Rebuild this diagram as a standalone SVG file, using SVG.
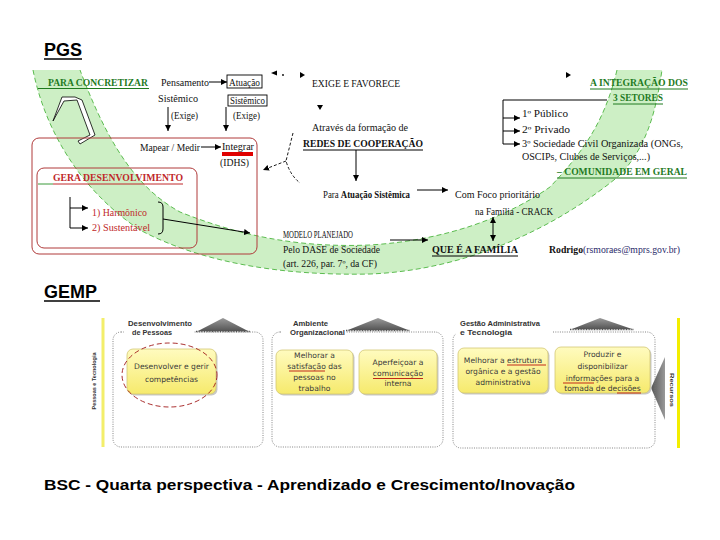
<svg xmlns="http://www.w3.org/2000/svg" width="720" height="540" viewBox="0 0 720 540">
<style>
.t{font-family:"Liberation Serif","DejaVu Serif",serif;font-size:9.5px;fill:#111}
.g{font-family:"Liberation Serif",serif;font-size:9.5px;font-weight:bold;fill:#1f7a1f}
.r{font-family:"Liberation Serif",serif;font-size:9.5px;fill:#c0282a}
.b{font-weight:bold}
.ttl{font-family:"Liberation Sans",Arial,sans-serif;font-weight:bold;font-size:18px;fill:#000}
.ln{stroke:#000;stroke-width:1;fill:none}
.lnd{stroke:#000;stroke-width:0.9;fill:none;stroke-dasharray:3 2}
.bx{font-family:"DejaVu Sans",Verdana,sans-serif;font-size:7.6px;fill:#3a3a3a;text-anchor:middle}
.gl{font-family:"Liberation Sans",Arial,sans-serif;font-size:7px;font-weight:bold;fill:#333}
.grp{fill:none;stroke:#777;stroke-width:0.9;stroke-dasharray:1 1.3}
.yb{fill:url(#yg);stroke:#d3c874;stroke-width:0.8}
.sh{fill:#c8c8c8}
.ul{stroke:#c02818;stroke-width:1}
</style>
<defs>
<marker id="ah" viewBox="0 0 6 6" refX="6" refY="3" markerWidth="6" markerHeight="6" markerUnits="userSpaceOnUse" orient="auto-start-reverse"><path d="M0,0 L6,3 L0,6 z" fill="#000"/></marker>
<linearGradient id="yg" x1="0" y1="0" x2="0" y2="1"><stop offset="0" stop-color="#fffbbf"/><stop offset="1" stop-color="#f6ea6c"/></linearGradient>
<linearGradient id="gr" x1="0" y1="0" x2="0" y2="1"><stop offset="0" stop-color="#9a9a9a"/><stop offset="1" stop-color="#555"/></linearGradient>
<linearGradient id="gr2" x1="0" y1="0" x2="1" y2="0"><stop offset="0" stop-color="#555"/><stop offset="1" stop-color="#999"/></linearGradient>
</defs>
<rect width="720" height="540" fill="#fff"/>

<!-- titles -->
<g id="title-pgs"><text class="ttl" x="44" y="56">PGS</text><line x1="44" y1="59" x2="82" y2="59" stroke="#000" stroke-width="1.5"/></g>
<g id="title-gemp"><text class="ttl" x="44" y="298">GEMP</text><line x1="44" y1="301" x2="100" y2="301" stroke="#000" stroke-width="1.5"/></g>
<g id="title-bsc"><text x="44" y="490" textLength="531" lengthAdjust="spacingAndGlyphs" style="font-family:'Liberation Sans',Arial,sans-serif;font-weight:bold;font-size:15.5px">BSC - Quarta perspectiva - Aprendizado e Crescimento/Inovação</text></g>

<!-- green band -->
<g id="band">
<path d="M33,70 C45,130 80,190 140,230 C200,262 280,276 370,274 C470,270 560,225 620,175 C648,145 656,110 662,70 L617,70 C605,120 585,150 550,187 C510,215 450,240 370,245 C300,248 240,236 180,212 C140,190 110,150 80,70 Z" fill="#cdefc5"/>
<path d="M33,70 C45,130 80,190 140,230 C200,262 280,276 370,274 C470,270 560,225 620,175 C648,145 656,110 662,70" fill="none" stroke="#5cbc50" stroke-width="1" stroke-dasharray="5 3"/>
<path d="M617,70 C605,120 585,150 550,187 C510,215 450,240 370,245 C300,248 240,236 180,212 C140,190 110,150 80,70" fill="none" stroke="#5cbc50" stroke-width="1" stroke-dasharray="5 3"/>
<path d="M53,121 L62,97 L75,97 L82,100 L95,135 L80,144 L78,141 L90,135 L77,100 L64,101 Z" fill="#fff" stroke="#000" stroke-width="0.8"/>
</g>

<!-- red boxes -->
<g id="box-outer"><rect x="32" y="138" width="225" height="116" rx="7" fill="none" stroke="#b03a3a" stroke-width="1"/></g>
<g id="box-inner"><rect x="37" y="168" width="160" height="80" rx="7" fill="none" stroke="#b03a3a" stroke-width="1"/></g>

<!-- PGS texts -->
<g id="para-concretizar"><text class="g" x="48" y="86" textLength="100" lengthAdjust="spacingAndGlyphs">PARA CONCRETIZAR</text><line x1="38" y1="88.5" x2="149" y2="88.5" stroke="#1f7a1f" stroke-width="1"/></g>
<g id="pensamento"><text class="t" x="161" y="86" textLength="48" lengthAdjust="spacingAndGlyphs">Pensamento</text></g>
<g id="atuacao"><rect x="227" y="75" width="35" height="13" fill="#fff" stroke="#000" stroke-width="0.9"/><text class="t" x="229" y="86" textLength="31" lengthAdjust="spacingAndGlyphs">Atuação</text></g>
<g id="sistemico1"><text class="t" x="158" y="102" textLength="40" lengthAdjust="spacingAndGlyphs">Sistêmico</text></g>
<g id="sistemico2"><rect x="228" y="95" width="39" height="11" fill="#fff" stroke="#000" stroke-width="0.9"/><text class="t" x="230" y="104" textLength="35" lengthAdjust="spacingAndGlyphs">Sistêmico</text></g>
<g id="exige1"><text class="t" x="171" y="119" textLength="27" lengthAdjust="spacingAndGlyphs">(Exige)</text></g>
<g id="exige2"><text class="t" x="233" y="119" textLength="27" lengthAdjust="spacingAndGlyphs">(Exige)</text></g>
<g id="mapear"><text class="t" x="140" y="151" textLength="60" lengthAdjust="spacingAndGlyphs">Mapear / Medir</text></g>
<g id="integrar"><text class="t" x="222" y="150" textLength="32" lengthAdjust="spacingAndGlyphs">Integrar</text><rect x="222" y="152" width="31" height="4" fill="#e00000"/></g>
<g id="idhs"><text class="t" x="220" y="166" textLength="29" lengthAdjust="spacingAndGlyphs">(IDHS)</text></g>
<g id="gera"><text class="r b" x="53" y="181" textLength="130" lengthAdjust="spacingAndGlyphs">GERA DESENVOLVIMENTO</text><line x1="53" y1="184" x2="183" y2="184" stroke="#c0282a"/><line x1="38" y1="184" x2="53" y2="184" stroke="#3a9a3a"/></g>
<g id="harmonico"><text class="r" x="92" y="216" textLength="55" lengthAdjust="spacingAndGlyphs">1) Harmônico</text></g>
<g id="sustentavel"><text class="r" x="92" y="231" textLength="58" lengthAdjust="spacingAndGlyphs">2) Sustentável</text></g>
<g id="exige-favorece"><text class="t" x="312" y="87" textLength="88" lengthAdjust="spacingAndGlyphs">EXIGE E FAVORECE</text></g>
<g id="atraves"><text class="t" x="312" y="131" textLength="96" lengthAdjust="spacingAndGlyphs">Através da formação de</text></g>
<g id="redes"><text class="t b" x="303" y="147" textLength="120" lengthAdjust="spacingAndGlyphs">REDES DE COOPERAÇÃO</text><line x1="303" y1="150" x2="423" y2="150" stroke="#000"/></g>
<g id="para-atuacao"><text class="t" x="323" y="198" textLength="87" lengthAdjust="spacingAndGlyphs">Para <tspan class="b">Atuação Sistêmica</tspan></text></g>
<g id="com-foco"><text class="t" x="455" y="198" textLength="85" lengthAdjust="spacingAndGlyphs">Com Foco prioritário</text><text class="t" x="475" y="215" textLength="78" lengthAdjust="spacingAndGlyphs">na Família - CRACK</text></g>
<g id="modelo"><text class="t" x="283" y="238" textLength="70" lengthAdjust="spacingAndGlyphs">MODELO PLANEJADO</text><text class="t" x="283" y="253" textLength="97" lengthAdjust="spacingAndGlyphs">Pelo DASE de Sociedade</text><text class="t" x="283" y="267" textLength="94" lengthAdjust="spacingAndGlyphs">(art. 226, par. 7º, da CF)</text></g>
<g id="que-familia"><text class="t b" x="432" y="253" textLength="86" lengthAdjust="spacingAndGlyphs">QUE É A FAMÍLIA</text><line x1="432" y1="256" x2="518" y2="256" stroke="#000"/></g>
<g id="rodrigo"><text class="t" x="549" y="253" textLength="131" lengthAdjust="spacingAndGlyphs"><tspan class="b">Rodrigo</tspan><tspan fill="#2a2a6a">(rsmoraes@mprs.gov.br)</tspan></text></g>
<g id="integracao"><text class="g" x="590" y="86" textLength="98" lengthAdjust="spacingAndGlyphs">A INTEGRAÇÃO DOS</text><line x1="590" y1="89" x2="688" y2="89" stroke="#1f7a1f"/><text class="g" x="613" y="101" textLength="50" lengthAdjust="spacingAndGlyphs">3 SETORES</text><line x1="613" y1="104" x2="663" y2="104" stroke="#1f7a1f"/></g>
<g id="setores"><text class="t" x="522" y="117" textLength="46" lengthAdjust="spacingAndGlyphs">1º Público</text><text class="t" x="522" y="133" textLength="48" lengthAdjust="spacingAndGlyphs">2º Privado</text><text class="t" x="522" y="147" textLength="161" lengthAdjust="spacingAndGlyphs">3º Sociedade Civil Organizada (ONGs,</text><text class="t" x="522" y="160" textLength="128" lengthAdjust="spacingAndGlyphs">OSCIPs, Clubes de Serviços,...)</text></g>
<g id="comunidade"><text class="g" x="557" y="175" textLength="130" lengthAdjust="spacingAndGlyphs">– COMUNIDADE EM GERAL</text><line x1="557" y1="178" x2="687" y2="178" stroke="#1f7a1f"/></g>

<!-- PGS connectors -->
<g id="connectors">
<line class="ln" x1="209" y1="82" x2="227" y2="82" marker-end="url(#ah)"/>
<line class="ln" x1="168" y1="107" x2="168" y2="131" marker-end="url(#ah)"/>
<line class="ln" x1="226" y1="107" x2="226" y2="131" marker-end="url(#ah)"/>
<line class="ln" x1="201" y1="147" x2="221" y2="147" marker-end="url(#ah)"/>
<line class="ln" x1="70" y1="197" x2="70" y2="228"/>
<line class="ln" x1="70" y1="208" x2="88" y2="208" marker-end="url(#ah)"/>
<line class="ln" x1="70" y1="228" x2="88" y2="228" marker-end="url(#ah)"/>
<path class="ln" d="M158,202 Q163,202 163,207 L163,229 Q163,234 158,234"/>
<line class="ln" x1="163" y1="219" x2="250" y2="233" marker-end="url(#ah)"/>
<path class="lnd" d="M293,133 L286,161 Q290,175 300,183"/>
<line class="lnd" x1="286" y1="161" x2="263" y2="170" marker-end="url(#ah)"/>
<line class="ln" x1="356" y1="150" x2="356" y2="181" marker-end="url(#ah)"/>
<line class="ln" x1="417" y1="190" x2="448" y2="190" marker-end="url(#ah)"/>
<line class="ln" x1="493" y1="217" x2="493" y2="241" marker-start="url(#ah)" marker-end="url(#ah)"/>
<line class="ln" x1="390" y1="240" x2="428" y2="240" marker-end="url(#ah)"/>
<path class="ln" d="M607,100 L503,100 L503,144"/>
<line class="ln" x1="503" y1="118" x2="520" y2="118" marker-end="url(#ah)"/>
<line class="ln" x1="503" y1="131" x2="520" y2="131" marker-end="url(#ah)"/>
<line class="ln" x1="503" y1="144" x2="520" y2="144" marker-end="url(#ah)"/>
<path d="M271,73 L277,70.5 L277,75.5 z" fill="#000"/>
<circle cx="283" cy="75" r="0.9" fill="#000"/>
<path d="M300,72 L305,75 L300,78 z" fill="#000"/>
<path d="M317,105 L323,105 L320,110 z" fill="#000"/>
<path d="M566,72 L571,75 L566,78 z" fill="#000"/>
</g>

<!-- GEMP -->
<g id="gemp-sides">
<rect x="101.5" y="318" width="3" height="129" fill="#f3ee6a"/>
<rect x="677" y="318" width="3" height="130" fill="#f3ee00"/>
<text class="gl" transform="translate(96,381) rotate(-90)" text-anchor="middle" textLength="57" lengthAdjust="spacingAndGlyphs" style="font-size:6px">Pessoas e Tecnologia</text>
<text class="gl" transform="translate(670,390) rotate(90)" text-anchor="middle" textLength="34" lengthAdjust="spacingAndGlyphs" style="font-size:6px">Recursos</text>
<polygon points="665,357 665,420 651,388" fill="url(#gr2)"/>
</g>

<g id="grp-pessoas">
<rect class="grp" x="113" y="332" width="150" height="115" rx="8"/>
<polygon points="198,331 223,318 248,331" fill="url(#gr)"/>
<line x1="196" y1="331.5" x2="250" y2="331.5" stroke="#555" stroke-width="1.5" stroke-dasharray="1 0.6"/>
<rect x="124" y="318" width="70" height="19" fill="#fff"/>
<text class="gl" x="128" y="326" textLength="64" lengthAdjust="spacingAndGlyphs">Desenvolvimento</text>
<text class="gl" x="132" y="335" textLength="40" lengthAdjust="spacingAndGlyphs">de Pessoas</text>
</g>
<g id="grp-ambiente">
<rect class="grp" x="272" y="332" width="171" height="115" rx="8"/>
<polygon points="348,330 378,318 408,330" fill="url(#gr)"/>
<line x1="346" y1="330.5" x2="410" y2="330.5" stroke="#555" stroke-width="1.5" stroke-dasharray="1 0.6"/>
<rect x="282" y="318" width="64" height="19" fill="#fff"/>
<text class="gl" x="293" y="326" textLength="35" lengthAdjust="spacingAndGlyphs">Ambiente</text>
<text class="gl" x="290" y="335" textLength="55" lengthAdjust="spacingAndGlyphs">Organizacional</text>
</g>
<g id="grp-gestao">
<rect class="grp" x="453" y="332" width="202" height="116" rx="8"/>
<polygon points="572,329 600,318 632,329" fill="url(#gr)"/>
<line x1="570" y1="329.5" x2="634" y2="329.5" stroke="#555" stroke-width="1.5" stroke-dasharray="1 0.6"/>
<rect x="456" y="318" width="96" height="19" fill="#fff"/>
<text class="gl" x="460" y="326" textLength="80" lengthAdjust="spacingAndGlyphs">Gestão Administrativa</text>
<text class="gl" x="460" y="335" textLength="52" lengthAdjust="spacingAndGlyphs">e Tecnologia</text>
</g>

<g id="box-competencias">
<rect class="sh" x="128.5" y="350.5" width="89" height="45" rx="6"/>
<rect class="yb" x="127" y="349" width="89" height="45" rx="6"/>
<text class="bx" x="171.5" y="369">Desenvolver e gerir</text>
<text class="bx" x="171.5" y="382">competências</text>
<ellipse cx="169.5" cy="375" rx="47.5" ry="32" fill="none" stroke="#a01818" stroke-width="0.9" stroke-dasharray="5 3"/>
</g>
<g id="box-satisfacao">
<rect class="sh" x="277.5" y="351.5" width="77" height="44" rx="6"/>
<rect class="yb" x="276" y="350" width="77" height="44" rx="6"/>
<text class="bx" x="314.5" y="358">Melhorar a</text>
<text class="bx" x="314.5" y="369">satisfação das</text>
<text class="bx" x="314.5" y="380">pessoas no</text>
<text class="bx" x="314.5" y="391">trabalho</text>
<line class="ul" x1="289" y1="371" x2="325" y2="371"/>
</g>
<g id="box-comunicacao">
<rect class="sh" x="360.5" y="351.5" width="78" height="44" rx="6"/>
<rect class="yb" x="359" y="350" width="78" height="44" rx="6"/>
<text class="bx" x="398" y="365">Aperfeiçoar a</text>
<text class="bx" x="398" y="376">comunicação</text>
<text class="bx" x="398" y="386">interna</text>
<line class="ul" x1="373" y1="378.5" x2="423" y2="378.5"/>
</g>
<g id="box-estrutura">
<rect class="sh" x="459.5" y="349.5" width="90" height="45" rx="6"/>
<rect class="yb" x="458" y="348" width="90" height="45" rx="6"/>
<text class="bx" x="503" y="363">Melhorar a estrutura</text>
<text class="bx" x="503" y="374">orgânica e a gestão</text>
<text class="bx" x="503" y="385">administrativa</text>
<line class="ul" x1="507" y1="365" x2="546" y2="365"/>
</g>
<g id="box-informacoes">
<rect class="sh" x="556.5" y="348.5" width="95" height="46" rx="6"/>
<rect class="yb" x="555" y="347" width="95" height="46" rx="6"/>
<text class="bx" x="602.5" y="357">Produzir e</text>
<text class="bx" x="602.5" y="369">disponibilizar</text>
<text class="bx" x="602.5" y="381">informações para a</text>
<text class="bx" x="602.5" y="391">tomada de decisões</text>
<line class="ul" x1="563" y1="383" x2="594" y2="383"/>
<line class="ul" x1="617" y1="393" x2="641" y2="393"/>
</g>
</svg>
